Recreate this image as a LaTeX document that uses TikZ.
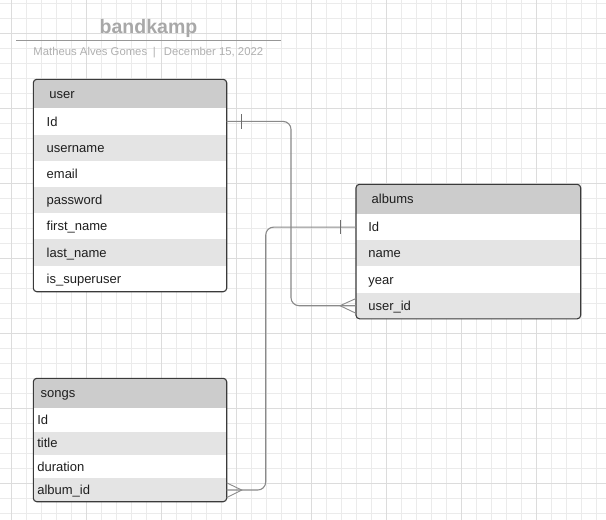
\documentclass[tikz,border=0pt]{standalone}
\usepackage{fontspec}
\setmainfont{Liberation Sans}
\usetikzlibrary{calc}
\definecolor{gridminor}{HTML}{EBEBEB}
\definecolor{gridmajor}{HTML}{DCDCDC}
\definecolor{hdrfill}{HTML}{CCCCCC}
\definecolor{altrow}{HTML}{E4E4E4}
\definecolor{bordercol}{HTML}{3A3A3A}
\definecolor{conncol}{HTML}{8A8A8A}
\definecolor{titlecol}{HTML}{A8A8A8}
\definecolor{subcol}{HTML}{B0B0B0}
\definecolor{textcol}{HTML}{1E1E1E}
\tikzset{
  tbl/.style={rectangle, inner ysep=0pt, outer sep=0pt, anchor=north west, align=left,
    text height=9.3pt, text depth=0pt, text=textcol, font=\fontsize{13}{15}\selectfont},
  hdr/.style={tbl, fill=hdrfill},
  whitefill/.style={fill=white},
  altfill/.style={fill=altrow},
  userrow/.style={tbl, minimum height=26.2pt, text width=166.6pt, inner xsep=13.4pt},
  userhdr/.style={hdr, minimum height=29pt, text width=161.4pt, inner xsep=16pt},
  albrow/.style={tbl, minimum height=26.2pt, text width=200.1pt, inner xsep=12.3pt},
  albhdr/.style={hdr, minimum height=29.7pt, text width=193.3pt, inner xsep=15.7pt},
  songrow/.style={tbl, minimum height=23.35pt, text width=185.4pt, inner xsep=4pt},
  songhdr/.style={hdr, minimum height=30pt, text width=178.6pt, inner xsep=7.4pt},
  tblborder/.style={draw=bordercol, line width=1.1pt, rounded corners=3.5pt},
  conn/.style={draw=conncol, line width=1.1pt, rounded corners=8pt},
  tickmark/.style={draw=conncol!80!black, line width=1.1pt},
  crowfoot/.style={draw=conncol, line width=0.9pt},
}
\begin{document}
\begin{tikzpicture}[x=1pt,y=-1pt]
\useasboundingbox (0,0) rectangle (606,520);
\fill[white] (0,0) rectangle (606,520);
% grid
\foreach \i in {0,...,39} \draw[gridminor, line width=1pt] ({11.7+15*\i},0) -- ({11.7+15*\i},520);
\foreach \j in {0,...,34} \draw[gridminor, line width=1pt] (0,{3.3+15*\j}) -- (606,{3.3+15*\j});
\foreach \i in {0,...,7} \draw[gridmajor, line width=1pt] ({11.7+75*\i},0) -- ({11.7+75*\i},520);
\foreach \j in {0,...,6} \draw[gridmajor, line width=1pt] (0,{33.3+75*\j}) -- (606,{33.3+75*\j});

% title
\node[font=\bfseries\fontsize{19.5}{22}\selectfont, text=titlecol, inner sep=0pt, text height=14pt, text depth=0pt] (title) at (148.5,26) {bandkamp};
\coordinate (tl) at (16,40.3);
\coordinate (tr) at (281,40.3);
\draw[titlecol!90!black, line width=1pt] (tl) -- (tr);
\node[font=\fontsize{11.3}{13}\selectfont, text=subcol, anchor=west, inner sep=0pt, text height=8pt, text depth=0pt] (subtitle) at (33.3,51.7)
  {Matheus Alves Gomes\hspace{5.8pt}|\hspace{8pt}December 15, 2022};

% user table
\begin{scope}
\clip[rounded corners=3.5pt] (33.3,79.3) rectangle (226.7,291.7);
\node[userhdr] (uH) at (33.3,79.3) {user};
\node[userrow, whitefill] (uId) at (uH.south west) {Id};
\node[userrow, altfill] (uUsername) at (uId.south west) {username};
\node[userrow, whitefill] (uEmail) at (uUsername.south west) {email};
\node[userrow, altfill] (uPassword) at (uEmail.south west) {password};
\node[userrow, whitefill] (uFirst) at (uPassword.south west) {first\_name};
\node[userrow, altfill] (uLast) at (uFirst.south west) {last\_name};
\node[userrow, whitefill] (uSuper) at (uLast.south west) {is\_superuser};
\end{scope}
\draw[tblborder] (uH.north west) rectangle (uSuper.south east);

% albums table
\begin{scope}
\clip[rounded corners=3.5pt] (356,184.3) rectangle (580.7,318.7);
\node[albhdr] (aH) at (356,184.3) {albums};
\node[albrow, whitefill] (aId) at (aH.south west) {Id};
\node[albrow, altfill] (aName) at (aId.south west) {name};
\node[albrow, whitefill] (aYear) at (aName.south west) {year};
\node[albrow, altfill] (aUser) at (aYear.south west) {user\_id};
\end{scope}
\draw[tblborder] (aH.north west) rectangle (aUser.south east);

% songs table
\begin{scope}
\clip[rounded corners=3.5pt] (33.3,378.3) rectangle (226.7,501.7);
\node[songhdr] (sH) at (33.3,378.3) {songs};
\node[songrow, whitefill] (sId) at (sH.south west) {Id};
\node[songrow, altfill] (sTitle) at (sId.south west) {title};
\node[songrow, whitefill] (sDur) at (sTitle.south west) {duration};
\node[songrow, altfill] (sAlb) at (sDur.south west) {album\_id};
\end{scope}
\draw[tblborder] (sH.north west) rectangle (sAlb.south east);

% connector user.Id -> albums.user_id
\coordinate (k1) at (291,0);
\draw[conn] (uId.east) -| (k1 |- aUser.west) -- (aUser.west);
\draw[tickmark] ($(uId.east)+(15,-7.2)$) -- ($(uId.east)+(15,7.2)$);
\draw[crowfoot] ($(aUser.west)+(0,-7.2)$) -- ($(aUser.west)+(-16,0)$) -- ($(aUser.west)+(0,7.6)$);

% connector albums.Id -> songs.album_id
\coordinate (k2) at (265.7,0);
\draw[conn] (aId.west) -| (k2 |- sAlb.east) -- (sAlb.east);
\draw[tickmark] ($(aId.west)+(-15.7,-7.2)$) -- ($(aId.west)+(-15.7,7.2)$);
\draw[crowfoot] ($(sAlb.east)+(0,-7.2)$) -- ($(sAlb.east)+(15,0)$) -- ($(sAlb.east)+(0,7.6)$);
\end{tikzpicture}
\end{document}
